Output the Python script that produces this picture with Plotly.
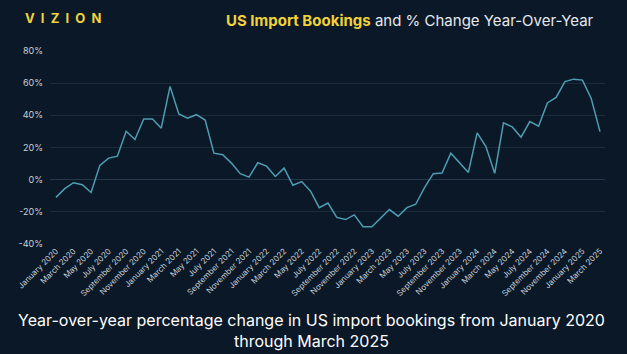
import plotly.graph_objects as go

months = ["January", "February", "March", "April", "May", "June", "July",
          "August", "September", "October", "November", "December"]
labels = []
for y in range(2020, 2026):
    for m in months:
        labels.append(f"{m} {y}")
labels = labels[:63]  # January 2020 .. March 2025

yoy_change = [
    -11.0, -5.6, -1.9, -3.1, -8.0, 8.9, 13.4, 14.6, 30.1, 25.0, 37.7, 37.7,
    32.0, 58.0, 40.8, 38.2, 40.4, 37.1, 16.5, 15.5, 10.3, 3.7, 1.6, 10.5,
    8.4, 2.0, 7.2, -3.5, -1.2, -7.0, -17.4, -14.5, -23.5, -24.8, -21.9, -29.3,
    -29.3, -24.2, -18.6, -22.7, -17.4, -15.3, -5.0, 3.7, 4.1, 16.5, 10.7, 4.5,
    29.1, 20.6, 3.9, 35.3, 32.8, 26.4, 36.1, 33.2, 47.7, 51.1, 61.0, 62.5,
    61.9, 50.5, 29.9,
]
tick_labels = labels[::2]
y_ticks = [-40, -20, 0, 20, 40, 60, 80]

BG = "#0b1827"
FONT = "Inter"

fig = go.Figure()
fig.add_trace(go.Scatter(
    x=labels, y=yoy_change, mode="lines",
    line=dict(color="#4e9db3", width=1.5),
    hoverinfo="x+y",
))

fig.update_layout(
    width=627, height=354,
    paper_bgcolor=BG, plot_bgcolor=BG,
    margin=dict(l=50, r=22, t=51, b=110),
    showlegend=False,
    font=dict(family=FONT, color="#c9d1d9"),
    xaxis=dict(
        type="category",
        range=[-0.68, 62.57],
        tickmode="array", tickvals=tick_labels, ticktext=tick_labels,
        tickangle=-45, tickfont=dict(size=8, color="#c9d1d9", family=FONT),
        showgrid=False, zeroline=False, showline=False, ticks="",
    ),
    yaxis=dict(
        range=[-40, 80],
        tickvals=y_ticks, ticktext=[f"{v}%" for v in y_ticks],
        tickfont=dict(size=9, color="#c9d1d9", family=FONT),
        gridcolor="#1c2b3a", gridwidth=1,
        zeroline=True, zerolinecolor="#24384a", zerolinewidth=1,
        showline=False, ticks="", ticklabelstandoff=6,
    ),
    annotations=[
        dict(text="<b>V&nbsp;&nbsp;I&nbsp;&nbsp;Z&nbsp;&nbsp;I&nbsp;&nbsp;O&nbsp;&nbsp;N</b>",
             x=23, y=354 - 18, xref="paper", yref="paper",
             showarrow=False, xanchor="left", yanchor="middle",
             font=dict(size=13, color="#f1d23a", family=FONT)),
        dict(text="<span style='color:#f1d23a'><b>US Import Bookings</b></span> and % Change Year-Over-Year",
             x=596, y=354 - 21, xref="paper", yref="paper",
             showarrow=False, xanchor="right", yanchor="middle",
             font=dict(size=15, color="#e6e9ee", family=FONT)),
        dict(text="Year-over-year percentage change in US import bookings from January 2020<br>through March 2025",
             x=311, y=354 - 330, xref="paper", yref="paper",
             showarrow=False, xanchor="center", yanchor="middle",
             font=dict(size=16, color="#ffffff", family=FONT)),
    ],
)

# convert pixel-based annotation positions into paper coordinates
pw, ph = 627 - 50 - 22, 354 - 51 - 110
for a in fig.layout.annotations:
    a.x = (a.x - 50) / pw
    a.y = (a.y - 110) / ph

fig.write_html("out.html")
